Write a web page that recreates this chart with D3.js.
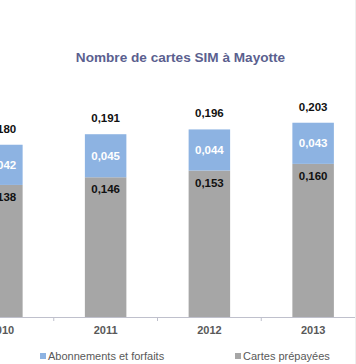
<!DOCTYPE html>
<html><head><meta charset="utf-8">
<script src="https://cdn.jsdelivr.net/npm/d3@7"></script>
<style>html,body{margin:0;padding:0;background:#fff;overflow:hidden}</style>
</head><body>
<svg id="c" width="356" height="364"></svg>
<script>
const years = ["2010","2011","2012","2013"];
const abonnements = [0.042, 0.045, 0.044, 0.043];
const prepayees = [0.138, 0.146, 0.153, 0.160];
const totals = [0.180, 0.191, 0.196, 0.203];
const seriesNames = ["Abonnements et forfaits", "Cartes prépayées"];
const colors = ["#8db3e2", "#a6a6a6"];

const fmt = v => d3.format(".3f")(v).replace(".", ",");
const svg = d3.select("#c");
const font = "Arial, 'Liberation Sans', sans-serif";

const x = d3.scaleBand().domain(years).range([-50, 365]).paddingInner(0.6).paddingOuter(0.3);
const y = d3.scaleLinear().domain([0, 0.25]).range([317, 317 - 0.25 * 957]);

// title
svg.append("text").attr("x", 180.5).attr("y", 61.5).attr("text-anchor", "middle")
  .attr("font-family", font).attr("font-size", 13.6).attr("font-weight", "bold")
  .attr("fill", "#5b5f8f").text("Nombre de cartes SIM à Mayotte");

const g = svg.append("g");
years.forEach((yr, i) => {
  const x0 = x(yr), w = x.bandwidth();
  g.append("rect").attr("x", x0).attr("width", w)
    .attr("y", y(prepayees[i])).attr("height", y(0) - y(prepayees[i])).attr("fill", colors[1]);
  g.append("rect").attr("x", x0).attr("width", w)
    .attr("y", y(totals[i])).attr("height", y(prepayees[i]) - y(totals[i])).attr("fill", colors[0]);
  const cx = x0 + w / 2;
  g.append("text").attr("x", cx).attr("y", y(totals[i]) - 12).attr("text-anchor", "middle")
    .attr("font-family", font).attr("font-size", 11.5).attr("font-weight", "bold").attr("fill", "#111").text(fmt(totals[i]));
  g.append("text").attr("x", cx).attr("y", (y(totals[i]) + y(prepayees[i])) / 2 + 4).attr("text-anchor", "middle")
    .attr("font-family", font).attr("font-size", 11.5).attr("font-weight", "bold").attr("fill", "#fff").text(fmt(abonnements[i]));
  g.append("text").attr("x", cx).attr("y", y(prepayees[i]) + 16).attr("text-anchor", "middle")
    .attr("font-family", font).attr("font-size", 11.5).attr("font-weight", "bold").attr("fill", "#111").text(fmt(prepayees[i]));
});

// axis
const axis = svg.append("g").attr("transform", `translate(0,${y(0)})`)
  .call(d3.axisBottom(x).tickSize(0).tickPadding(9));
axis.select(".domain").attr("stroke", "#bfc0cc").attr("d", "M-60,0.5H356");
axis.selectAll("text").attr("font-family", font).attr("font-size", 11).attr("font-weight", "bold").attr("fill", "#595959");
// tick marks between categories
const step = x.step();
years.forEach((yr, i) => {
  const tx = x(yr) + x.bandwidth() / 2 + step / 2;
  svg.append("line").attr("x1", tx).attr("x2", tx).attr("y1", y(0)).attr("y2", y(0) + 4).attr("stroke", "#bfc0cc");
});

// legend
const legX = [40, 235];
seriesNames.forEach((n, i) => {
  svg.append("rect").attr("x", legX[i]).attr("y", 353).attr("width", 6).attr("height", 6).attr("fill", colors[i]);
  svg.append("text").attr("x", legX[i] + 8).attr("y", 359.5).attr("font-family", font).attr("font-size", 11)
    .attr("fill", "#595959").text(n);
});

// faint right border
svg.append("line").attr("x1", 355.5).attr("x2", 355.5).attr("y1", 0).attr("y2", 364).attr("stroke", "#eeeeee");
</script>
</body></html>
